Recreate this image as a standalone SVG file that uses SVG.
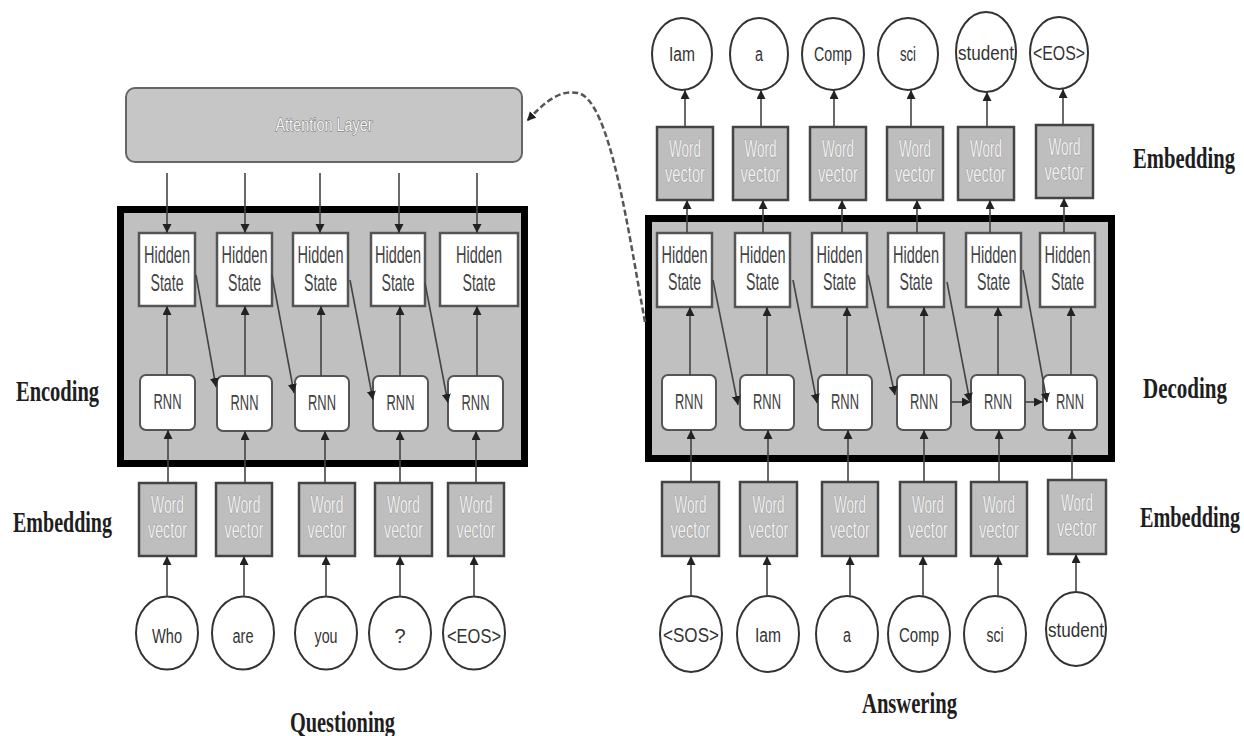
<svg xmlns="http://www.w3.org/2000/svg" width="1244" height="736" viewBox="0 0 1244 736">
<defs>
<marker id="ah" markerUnits="userSpaceOnUse" markerWidth="10" markerHeight="10" refX="9" refY="4.5" orient="auto">
<path d="M0,0 L9,4.5 L0,9 z" fill="#222"/>
</marker>
<style>
.frame{fill:#c0c0c0;stroke:#000;stroke-width:7}
.att{fill:#c6c6c6;stroke:#666;stroke-width:2}
.hs{fill:#fff;stroke:#555;stroke-width:2.5}
.rnn{fill:#fff;stroke:#555;stroke-width:2}
.wv{fill:#bebebe;stroke:#444;stroke-width:2.5}
.tok{fill:#fff;stroke:#333;stroke-width:2}
.t{font-family:"Liberation Sans",Arial,sans-serif;text-anchor:middle}
.ht{font-size:24px;fill:#424242}
.rt{font-size:22px;fill:#424242}
.wt{font-size:23px;fill:#f0f0f0;stroke:#7c7c7c;stroke-width:0.7;paint-order:stroke}
.at{font-size:18px;fill:#f6f6f6;stroke:#6a6a6a;stroke-width:1;paint-order:stroke}
.ct{font-size:20px;fill:#333}
.lbl{font-family:"Liberation Serif","Times New Roman",serif;font-weight:bold;font-size:29px;fill:#1e1e1e}
.c{stroke:#444;stroke-width:1.6;fill:none;marker-end:url(#ah)}
.d{stroke:#555;stroke-width:2.5;fill:none;stroke-dasharray:6 3;marker-end:url(#ah)}
</style>
</defs>
<rect width="1244" height="736" fill="#fff"/>

<!-- frames -->
<g id="encoder-frame"><rect class="frame" x="120.5" y="209.5" width="404" height="254"/></g>
<g id="decoder-frame"><rect class="frame" x="648.5" y="218.5" width="463" height="240"/></g>

<!-- labels -->
<g id="labels">
<text class="lbl" transform="translate(16,401) scale(0.7,1)" textLength="118.6" lengthAdjust="spacingAndGlyphs">Encoding</text>
<text class="lbl" transform="translate(13,532) scale(0.69,1)" textLength="143.5" lengthAdjust="spacingAndGlyphs">Embedding</text>
<text class="lbl" transform="translate(290,732) scale(0.7,1)" textLength="150" lengthAdjust="spacingAndGlyphs">Questioning</text>
<text class="lbl" transform="translate(862,713) scale(0.71,1)" textLength="133.8" lengthAdjust="spacingAndGlyphs">Answering</text>
<text class="lbl" transform="translate(1133,168) scale(0.7,1)" textLength="145.7" lengthAdjust="spacingAndGlyphs">Embedding</text>
<text class="lbl" transform="translate(1143,398) scale(0.72,1)" textLength="116.7" lengthAdjust="spacingAndGlyphs">Decoding</text>
<text class="lbl" transform="translate(1140,527) scale(0.7,1)" textLength="142.9" lengthAdjust="spacingAndGlyphs">Embedding</text>
</g>

<!-- attention -->
<g id="attention-layer">
<rect class="att" x="126" y="88" width="396" height="74" rx="9"/>
<text class="t at" x="324" y="131" textLength="97" lengthAdjust="spacingAndGlyphs">Attention Layer</text>
</g>

<!-- encoder hidden states -->
<g id="enc-hs-1"><rect class="hs" x="139" y="233" width="56" height="73"/><text class="t ht" x="167" y="263" textLength="46" lengthAdjust="spacingAndGlyphs">Hidden</text><text class="t ht" x="167" y="291" textLength="33" lengthAdjust="spacingAndGlyphs">State</text></g>
<g id="enc-hs-2"><rect class="hs" x="217" y="233" width="55" height="73"/><text class="t ht" x="244.5" y="263" textLength="46" lengthAdjust="spacingAndGlyphs">Hidden</text><text class="t ht" x="244.5" y="291" textLength="33" lengthAdjust="spacingAndGlyphs">State</text></g>
<g id="enc-hs-3"><rect class="hs" x="293" y="233" width="55" height="73"/><text class="t ht" x="320.5" y="263" textLength="46" lengthAdjust="spacingAndGlyphs">Hidden</text><text class="t ht" x="320.5" y="291" textLength="33" lengthAdjust="spacingAndGlyphs">State</text></g>
<g id="enc-hs-4"><rect class="hs" x="371" y="233" width="54" height="73"/><text class="t ht" x="398" y="263" textLength="46" lengthAdjust="spacingAndGlyphs">Hidden</text><text class="t ht" x="398" y="291" textLength="33" lengthAdjust="spacingAndGlyphs">State</text></g>
<g id="enc-hs-5"><rect class="hs" x="440" y="233" width="78" height="73"/><text class="t ht" x="479" y="263" textLength="46" lengthAdjust="spacingAndGlyphs">Hidden</text><text class="t ht" x="479" y="291" textLength="33" lengthAdjust="spacingAndGlyphs">State</text></g>

<!-- encoder RNN -->
<g id="enc-rnn-1"><rect class="rnn" x="140" y="375" width="55" height="55" rx="6"/><text class="t rt" x="167.5" y="409" textLength="28" lengthAdjust="spacingAndGlyphs">RNN</text></g>
<g id="enc-rnn-2"><rect class="rnn" x="217" y="376" width="55" height="55" rx="6"/><text class="t rt" x="244.5" y="410" textLength="28" lengthAdjust="spacingAndGlyphs">RNN</text></g>
<g id="enc-rnn-3"><rect class="rnn" x="295" y="376" width="54" height="55" rx="6"/><text class="t rt" x="322" y="410" textLength="28" lengthAdjust="spacingAndGlyphs">RNN</text></g>
<g id="enc-rnn-4"><rect class="rnn" x="373" y="376" width="55" height="55" rx="6"/><text class="t rt" x="400.5" y="410" textLength="28" lengthAdjust="spacingAndGlyphs">RNN</text></g>
<g id="enc-rnn-5"><rect class="rnn" x="448" y="376" width="55" height="55" rx="6"/><text class="t rt" x="475.5" y="410" textLength="28" lengthAdjust="spacingAndGlyphs">RNN</text></g>

<!-- encoder word vectors -->
<g id="enc-wv-1"><rect class="wv" x="139" y="483" width="57" height="73"/><text class="t wt" x="167.5" y="513" textLength="33" lengthAdjust="spacingAndGlyphs">Word</text><text class="t wt" x="167.5" y="538" textLength="39" lengthAdjust="spacingAndGlyphs">vector</text></g>
<g id="enc-wv-2"><rect class="wv" x="216" y="483" width="56" height="73"/><text class="t wt" x="244" y="513" textLength="33" lengthAdjust="spacingAndGlyphs">Word</text><text class="t wt" x="244" y="538" textLength="39" lengthAdjust="spacingAndGlyphs">vector</text></g>
<g id="enc-wv-3"><rect class="wv" x="299" y="483" width="56" height="73"/><text class="t wt" x="327" y="513" textLength="33" lengthAdjust="spacingAndGlyphs">Word</text><text class="t wt" x="327" y="538" textLength="39" lengthAdjust="spacingAndGlyphs">vector</text></g>
<g id="enc-wv-4"><rect class="wv" x="375" y="483" width="57" height="73"/><text class="t wt" x="403.5" y="513" textLength="33" lengthAdjust="spacingAndGlyphs">Word</text><text class="t wt" x="403.5" y="538" textLength="39" lengthAdjust="spacingAndGlyphs">vector</text></g>
<g id="enc-wv-5"><rect class="wv" x="448" y="483" width="56" height="73"/><text class="t wt" x="476" y="513" textLength="33" lengthAdjust="spacingAndGlyphs">Word</text><text class="t wt" x="476" y="538" textLength="39" lengthAdjust="spacingAndGlyphs">vector</text></g>

<!-- encoder tokens -->
<g id="tok-who"><ellipse class="tok" cx="167" cy="633" rx="31" ry="36.5"/><text class="t ct" x="167" y="643" textLength="30" lengthAdjust="spacingAndGlyphs">Who</text></g>
<g id="tok-are"><ellipse class="tok" cx="243" cy="633" rx="31" ry="36.5"/><text class="t ct" x="243" y="643" textLength="21" lengthAdjust="spacingAndGlyphs">are</text></g>
<g id="tok-you"><ellipse class="tok" cx="326" cy="633" rx="31" ry="36.5"/><text class="t ct" x="326" y="643" textLength="23" lengthAdjust="spacingAndGlyphs">you</text></g>
<g id="tok-q"><ellipse class="tok" cx="400" cy="633" rx="31" ry="36.5"/><text class="t ct" x="400" y="643">?</text></g>
<g id="tok-eos-in"><ellipse class="tok" cx="474" cy="633" rx="31" ry="36.5"/><text class="t ct" x="474" y="643" textLength="54" lengthAdjust="spacingAndGlyphs">&lt;EOS&gt;</text></g>

<!-- decoder hidden states -->
<g id="dec-hs-1"><rect class="hs" x="657" y="233" width="55" height="74"/><text class="t ht" x="684.5" y="263" textLength="46" lengthAdjust="spacingAndGlyphs">Hidden</text><text class="t ht" x="684.5" y="290" textLength="33" lengthAdjust="spacingAndGlyphs">State</text></g>
<g id="dec-hs-2"><rect class="hs" x="735" y="233" width="55" height="74"/><text class="t ht" x="762.5" y="263" textLength="46" lengthAdjust="spacingAndGlyphs">Hidden</text><text class="t ht" x="762.5" y="290" textLength="33" lengthAdjust="spacingAndGlyphs">State</text></g>
<g id="dec-hs-3"><rect class="hs" x="812" y="233" width="55" height="74"/><text class="t ht" x="839.5" y="263" textLength="46" lengthAdjust="spacingAndGlyphs">Hidden</text><text class="t ht" x="839.5" y="290" textLength="33" lengthAdjust="spacingAndGlyphs">State</text></g>
<g id="dec-hs-4"><rect class="hs" x="888" y="233" width="56" height="74"/><text class="t ht" x="916" y="263" textLength="46" lengthAdjust="spacingAndGlyphs">Hidden</text><text class="t ht" x="916" y="290" textLength="33" lengthAdjust="spacingAndGlyphs">State</text></g>
<g id="dec-hs-5"><rect class="hs" x="966" y="233" width="55" height="74"/><text class="t ht" x="993.5" y="263" textLength="46" lengthAdjust="spacingAndGlyphs">Hidden</text><text class="t ht" x="993.5" y="290" textLength="33" lengthAdjust="spacingAndGlyphs">State</text></g>
<g id="dec-hs-6"><rect class="hs" x="1040" y="233" width="55" height="74"/><text class="t ht" x="1067.5" y="263" textLength="46" lengthAdjust="spacingAndGlyphs">Hidden</text><text class="t ht" x="1067.5" y="290" textLength="33" lengthAdjust="spacingAndGlyphs">State</text></g>

<!-- decoder RNN -->
<g id="dec-rnn-1"><rect class="rnn" x="662" y="375" width="54" height="55" rx="6"/><text class="t rt" x="689" y="409" textLength="28" lengthAdjust="spacingAndGlyphs">RNN</text></g>
<g id="dec-rnn-2"><rect class="rnn" x="740" y="375" width="54" height="55" rx="6"/><text class="t rt" x="767" y="409" textLength="28" lengthAdjust="spacingAndGlyphs">RNN</text></g>
<g id="dec-rnn-3"><rect class="rnn" x="818" y="375" width="54" height="55" rx="6"/><text class="t rt" x="845" y="409" textLength="28" lengthAdjust="spacingAndGlyphs">RNN</text></g>
<g id="dec-rnn-4"><rect class="rnn" x="897" y="375" width="54" height="55" rx="6"/><text class="t rt" x="924" y="409" textLength="28" lengthAdjust="spacingAndGlyphs">RNN</text></g>
<g id="dec-rnn-5"><rect class="rnn" x="971" y="375" width="54" height="55" rx="6"/><text class="t rt" x="998" y="409" textLength="28" lengthAdjust="spacingAndGlyphs">RNN</text></g>
<g id="dec-rnn-6"><rect class="rnn" x="1043" y="375" width="54" height="55" rx="6"/><text class="t rt" x="1070" y="409" textLength="28" lengthAdjust="spacingAndGlyphs">RNN</text></g>

<!-- decoder output word vectors -->
<g id="dec-out-wv-1"><rect class="wv" x="657" y="127" width="56" height="73"/><text class="t wt" x="685" y="157" textLength="32" lengthAdjust="spacingAndGlyphs">Word</text><text class="t wt" x="685" y="182" textLength="40" lengthAdjust="spacingAndGlyphs">vector</text></g>
<g id="dec-out-wv-2"><rect class="wv" x="733" y="127" width="55" height="73"/><text class="t wt" x="760.5" y="157" textLength="32" lengthAdjust="spacingAndGlyphs">Word</text><text class="t wt" x="760.5" y="182" textLength="40" lengthAdjust="spacingAndGlyphs">vector</text></g>
<g id="dec-out-wv-3"><rect class="wv" x="810" y="127" width="56" height="73"/><text class="t wt" x="838" y="157" textLength="32" lengthAdjust="spacingAndGlyphs">Word</text><text class="t wt" x="838" y="182" textLength="40" lengthAdjust="spacingAndGlyphs">vector</text></g>
<g id="dec-out-wv-4"><rect class="wv" x="887" y="127" width="56" height="73"/><text class="t wt" x="915" y="157" textLength="32" lengthAdjust="spacingAndGlyphs">Word</text><text class="t wt" x="915" y="182" textLength="40" lengthAdjust="spacingAndGlyphs">vector</text></g>
<g id="dec-out-wv-5"><rect class="wv" x="958" y="127" width="56" height="73"/><text class="t wt" x="986" y="157" textLength="32" lengthAdjust="spacingAndGlyphs">Word</text><text class="t wt" x="986" y="182" textLength="40" lengthAdjust="spacingAndGlyphs">vector</text></g>
<g id="dec-out-wv-6"><rect class="wv" x="1036" y="125" width="57" height="73"/><text class="t wt" x="1064.5" y="155" textLength="32" lengthAdjust="spacingAndGlyphs">Word</text><text class="t wt" x="1064.5" y="180" textLength="40" lengthAdjust="spacingAndGlyphs">vector</text></g>

<!-- decoder output tokens -->
<g id="out-lam"><ellipse class="tok" cx="682" cy="54" rx="30" ry="36"/><text class="t ct" x="682" y="61" textLength="26" lengthAdjust="spacingAndGlyphs">Iam</text></g>
<g id="out-a"><ellipse class="tok" cx="759" cy="54" rx="29" ry="36"/><text class="t ct" x="759" y="61" textLength="8" lengthAdjust="spacingAndGlyphs">a</text></g>
<g id="out-comp"><ellipse class="tok" cx="833" cy="54" rx="31" ry="36"/><text class="t ct" x="833" y="61" textLength="38" lengthAdjust="spacingAndGlyphs">Comp</text></g>
<g id="out-sci"><ellipse class="tok" cx="908" cy="54" rx="30" ry="36"/><text class="t ct" x="908" y="61" textLength="16" lengthAdjust="spacingAndGlyphs">sci</text></g>
<g id="out-student"><ellipse class="tok" cx="986" cy="52" rx="30" ry="40"/><text class="t ct" x="986" y="60" textLength="56" lengthAdjust="spacingAndGlyphs">student</text></g>
<g id="out-eos"><ellipse class="tok" cx="1059" cy="53" rx="29" ry="36"/><text class="t ct" x="1059" y="60" textLength="52" lengthAdjust="spacingAndGlyphs">&lt;EOS&gt;</text></g>

<!-- decoder input word vectors -->
<g id="dec-in-wv-1"><rect class="wv" x="662" y="482" width="57" height="74"/><text class="t wt" x="690.5" y="513" textLength="32" lengthAdjust="spacingAndGlyphs">Word</text><text class="t wt" x="690.5" y="538" textLength="40" lengthAdjust="spacingAndGlyphs">vector</text></g>
<g id="dec-in-wv-2"><rect class="wv" x="740" y="482" width="57" height="74"/><text class="t wt" x="768.5" y="513" textLength="32" lengthAdjust="spacingAndGlyphs">Word</text><text class="t wt" x="768.5" y="538" textLength="40" lengthAdjust="spacingAndGlyphs">vector</text></g>
<g id="dec-in-wv-3"><rect class="wv" x="822" y="482" width="56" height="74"/><text class="t wt" x="850" y="513" textLength="32" lengthAdjust="spacingAndGlyphs">Word</text><text class="t wt" x="850" y="538" textLength="40" lengthAdjust="spacingAndGlyphs">vector</text></g>
<g id="dec-in-wv-4"><rect class="wv" x="900" y="482" width="56" height="74"/><text class="t wt" x="928" y="513" textLength="32" lengthAdjust="spacingAndGlyphs">Word</text><text class="t wt" x="928" y="538" textLength="40" lengthAdjust="spacingAndGlyphs">vector</text></g>
<g id="dec-in-wv-5"><rect class="wv" x="971" y="482" width="56" height="74"/><text class="t wt" x="999" y="513" textLength="32" lengthAdjust="spacingAndGlyphs">Word</text><text class="t wt" x="999" y="538" textLength="40" lengthAdjust="spacingAndGlyphs">vector</text></g>
<g id="dec-in-wv-6"><rect class="wv" x="1048" y="480" width="58" height="74"/><text class="t wt" x="1077" y="511" textLength="32" lengthAdjust="spacingAndGlyphs">Word</text><text class="t wt" x="1077" y="536" textLength="40" lengthAdjust="spacingAndGlyphs">vector</text></g>

<!-- decoder input tokens -->
<g id="in-sos"><ellipse class="tok" cx="691" cy="634" rx="31" ry="38"/><text class="t ct" x="691" y="642" textLength="56" lengthAdjust="spacingAndGlyphs">&lt;SOS&gt;</text></g>
<g id="in-lam"><ellipse class="tok" cx="768" cy="634" rx="31" ry="38"/><text class="t ct" x="768" y="642" textLength="26" lengthAdjust="spacingAndGlyphs">Iam</text></g>
<g id="in-a"><ellipse class="tok" cx="847" cy="634" rx="31" ry="38"/><text class="t ct" x="847" y="642" textLength="8" lengthAdjust="spacingAndGlyphs">a</text></g>
<g id="in-comp"><ellipse class="tok" cx="919" cy="634" rx="31" ry="38"/><text class="t ct" x="919" y="642" textLength="40" lengthAdjust="spacingAndGlyphs">Comp</text></g>
<g id="in-sci"><ellipse class="tok" cx="995" cy="634" rx="31" ry="38"/><text class="t ct" x="995" y="642" textLength="17" lengthAdjust="spacingAndGlyphs">sci</text></g>
<g id="in-student"><ellipse class="tok" cx="1076" cy="629" rx="30" ry="37"/><text class="t ct" x="1076" y="637" textLength="56" lengthAdjust="spacingAndGlyphs">student</text></g>

<!-- connectors -->
<g id="connectors">
<path class="c" d="M167 173 V233"/><path class="c" d="M245 173 V233"/><path class="c" d="M320 173 V233"/><path class="c" d="M399 173 V233"/><path class="c" d="M477 173 V233"/>
<path class="c" d="M167 375 V306"/><path class="c" d="M245 376 V306"/><path class="c" d="M321 376 V306"/><path class="c" d="M400 376 V306"/><path class="c" d="M477 376 V306"/>
<path class="c" d="M168 483 V430"/><path class="c" d="M245 483 V431"/><path class="c" d="M325 483 V431"/><path class="c" d="M400 483 V431"/><path class="c" d="M476 483 V431"/>
<path class="c" d="M167 597 V556"/><path class="c" d="M244 597 V556"/><path class="c" d="M326 597 V556"/><path class="c" d="M400 597 V556"/><path class="c" d="M474 597 V556"/>
<path class="c" d="M196 275 L216 387"/><path class="c" d="M272 275 L294 393"/><path class="c" d="M350 280 L373 400"/><path class="c" d="M425 283 L448 403"/>
<path class="c" d="M685 127 V90"/><path class="c" d="M761 127 V90"/><path class="c" d="M834 127 V90"/><path class="c" d="M911 127 V90"/><path class="c" d="M987 127 V92"/><path class="c" d="M1063 125 V89"/>
<path class="c" d="M687 233 V200"/><path class="c" d="M763 233 V200"/><path class="c" d="M842 233 V200"/><path class="c" d="M917 233 V200"/><path class="c" d="M990 233 V200"/><path class="c" d="M1064 233 V198"/>
<path class="c" d="M690 375 V307"/><path class="c" d="M767 375 V307"/><path class="c" d="M847 375 V307"/><path class="c" d="M924 375 V307"/><path class="c" d="M998 375 V307"/><path class="c" d="M1071 375 V307"/>
<path class="c" d="M691 482 V430"/><path class="c" d="M768 482 V430"/><path class="c" d="M848 482 V430"/><path class="c" d="M924 482 V430"/><path class="c" d="M999 482 V430"/><path class="c" d="M1072 480 V430"/>
<path class="c" d="M691 596 V556"/><path class="c" d="M767 596 V556"/><path class="c" d="M850 596 V556"/><path class="c" d="M923 596 V556"/><path class="c" d="M998 596 V556"/><path class="c" d="M1076 592 V554"/>
<path class="c" d="M713 280 L738 405"/><path class="c" d="M793 280 L817 403"/><path class="c" d="M868 275 L895 395"/><path class="c" d="M947 282 L970 402"/><path class="c" d="M1023 270 L1047 402"/>
<path class="c" d="M951 402 H971"/><path class="c" d="M1025 402 H1043"/>
<path class="d" d="M645 322 C628 230 610 100 578 93 C558 89 542 105 527 121"/>
</g>
</svg>
